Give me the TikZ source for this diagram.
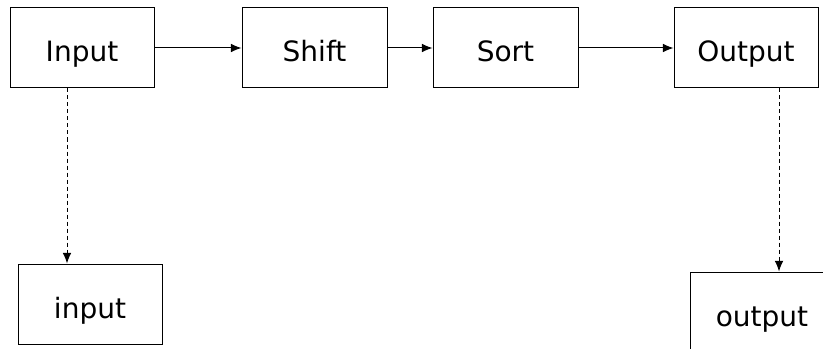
\documentclass[tikz,border=0pt]{standalone}
\usepackage{fontspec}
\setmainfont{DejaVu Sans}
\usetikzlibrary{arrows.meta, positioning}
\tikzstyle{etapa} = [draw=black, line width=0.75pt, rectangle, minimum width=108pt, minimum height=60pt, inner sep=0pt, text height=25pt, text depth=4pt, font=\fontsize{21}{25}\selectfont]
\tikzstyle{flecha} = [line width=0.75pt, -{Latex[length=8pt,width=6.5pt]}]
\tikzstyle{traza} = [flecha, dash pattern=on 3pt off 2.25pt]

\begin{document}
\begin{tikzpicture}[x=0.75pt, y=-0.75pt]
	\useasboundingbox (0,0) rectangle (823,349);
	\node [etapa] (Input) at (82,48) {Input};
	\node [etapa, minimum width=108.75pt] (Shift) at (314.5,48) {Shift};
	\node [etapa, minimum width=108.75pt] (Sort) at (505.5,48) {Sort};
	\node [etapa] (Output) at (746,48) {Output};
	\node [etapa] (input) at (90,304) {input};
	\node [etapa] (output) at (762,312) {output};
	\draw [flecha] (Input) -- (Shift);
	\draw [flecha] (Shift) -- (Sort);
	\draw [flecha] (Sort) -- (Output);
	\draw [traza] ([xshift=-11.25pt]Input.south) -- ([xshift=-11.25pt]Input.south |- input.north);
	\draw [traza] ([xshift=24.75pt]Output.south) -- ([xshift=24.75pt]Output.south |- output.north);
\end{tikzpicture}
\end{document}
